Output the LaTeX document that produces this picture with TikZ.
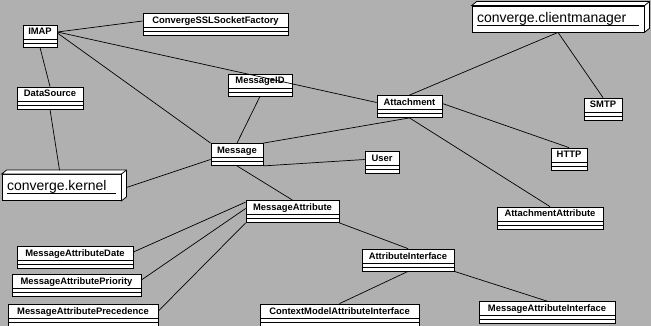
\documentclass[tikz,border=0pt]{standalone}
\usepackage{fontspec}
\setmainfont{Liberation Sans}
\usepackage{xcolor}
\definecolor{DiagramGray}{RGB}{176,176,176}
\newcommand\pkgside[1]{%
  \draw[fill=white] (#1.north west) -- ++(5,-4) -- ([shift={(5,-4)}]#1.north east)
    -- ([shift={(5,-4)}]#1.south east) -- (#1.south east) -- (#1.north east) -- cycle;
  \draw (#1.north east) -- ++(5,-4);}
\newcommand\pkgname[2]{\makebox[#1pt][l]{#2}\llap{\rule[-3.5pt]{#1pt}{1pt}}}

\begin{document}
\begin{tikzpicture}[
x=1pt,y=-1pt,line width=0.8pt,
cls/.style={rectangle,draw,fill=white,minimum width=#1pt,minimum height=22pt,
inner xsep=2pt,inner ysep=0pt,text height=10pt,text depth=12pt,
font=\fontsize{9.4}{11}\selectfont\bfseries,
path picture={\draw ([yshift=8pt]path picture bounding box.south west) -- ([yshift=8pt]path picture bounding box.south east)
([yshift=4pt]path picture bounding box.south west) -- ([yshift=4pt]path picture bounding box.south east);}},
pkg/.style={rectangle,draw,fill=white,minimum width=#1pt,minimum height=26pt,
inner xsep=5pt,inner ysep=0pt,font=\fontsize{14}{16}\selectfont},
link/.style={draw=black,line width=0.7pt}
]
\fill[DiagramGray] (0,0) rectangle (651,326);
\useasboundingbox (0,0) rectangle (651,326);

% classes
\node[cls=34] (imap) at (40,36) {IMAP};
\node[cls=145] (sslfactory) at (215.5,24.5) {ConvergeSSLSocketFactory};
\node[cls=66] (datasource) at (50,98) {DataSource};
\node[cls=64] (messageid) at (260,85) {MessageID};
\node[cls=52] (message) at (237,154.5) {Message};
\node[cls=65] (attachment) at (409.5,106.5) {Attachment};
\node[cls=38] (smtp) at (603,109) {SMTP};
\node[cls=34] (user) at (382,162.5) {User};
\node[cls=36] (http) at (569,159) {HTTP};
\node[cls=93] (msgattr) at (292.5,211.5) {MessageAttribute};
\node[cls=106] (attachattr) at (550,218) {AttachmentAttribute};
\node[cls=116] (madate) at (75,257) {MessageAttributeDate};
\node[cls=129] (mapriority) at (76.5,285) {MessageAttributePriority};
\node[cls=150] (maprecedence) at (83,315) {MessageAttributePrecedence};
\node[cls=92] (attrif) at (408,260) {AttributeInterface};
\node[cls=159] (ctxattrif) at (339.5,315) {ContextModelAttributeInterface};
\node[cls=136] (msgattrif) at (547,312.5) {MessageAttributeInterface};

% packages
\node[pkg=119] (kernel) at (61.5,187.5) {\pkgname{109}{converge.kernel}};
\pkgside{kernel}
\node[pkg=172] (climgr) at (558,19) {\pkgname{162}{converge.clientmanager}};
\pkgside{climgr}

% links
\draw[link] ([yshift=4pt]imap.east) -- ([yshift=3.5pt]sslfactory.west);
\draw[link] ([yshift=4pt]imap.east) -- ([yshift=4pt]attachment.west);
\draw[link] ([yshift=3pt]imap.east) -- (message.north west);
\draw[link] (imap.south) -- (datasource.north);
\draw[link] (datasource.south) -- ([xshift=-2pt,yshift=4pt]kernel.north);
\draw[link] (messageid.south) -- (message.north);
\draw[link] (message.north east) -- (attachment.south);
\draw[link] (message.south east) -- ([yshift=3pt]user.west);
\draw[link] ([yshift=-5pt]message.west) -- ([xshift=5pt]kernel.east);
\draw[link] (message.south) -- (msgattr.north);
\draw[link] ([yshift=-2pt]msgattr.north west) -- ([yshift=5pt]madate.east);
\draw[link] ([yshift=3pt]msgattr.west) -- ([yshift=5pt]mapriority.east);
\draw[link] (msgattr.south west) -- ([yshift=4pt]maprecedence.east);
\draw[link] (msgattr.south east) -- (attrif.north);
\draw[link] (attrif.south) -- (ctxattrif.north);
\draw[link] (attrif.south east) -- (msgattrif.north);
\draw[link] (attachment.south) -- (attachattr.north);
\draw[link] ([yshift=3pt]attachment.east) -- (http.north);
\draw[link] (attachment.north) -- (climgr.south);
\draw[link] (climgr.south) -- (smtp.north);
\end{tikzpicture}
\end{document}
